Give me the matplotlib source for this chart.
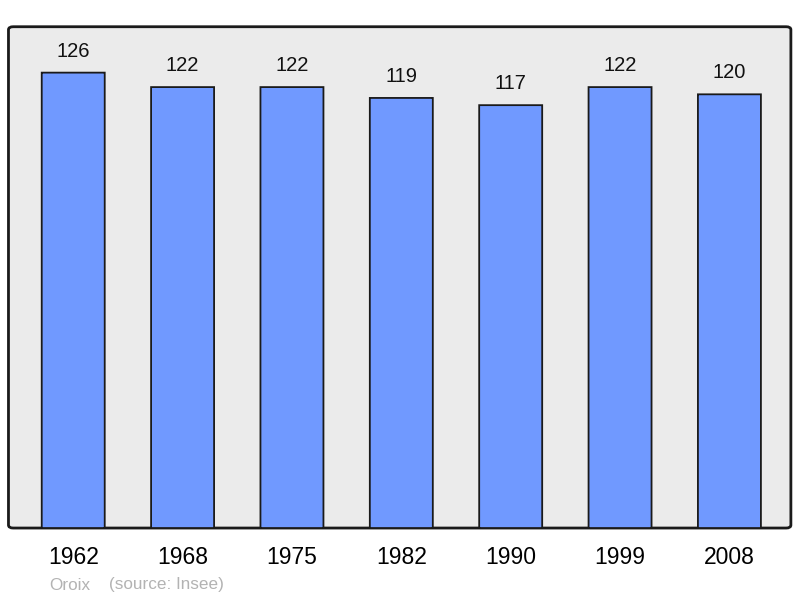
import matplotlib
matplotlib.use('Agg')
from matplotlib import pyplot as plt
from matplotlib.patches import FancyBboxPatch

# Data
years = ['1962', '1968', '1975', '1982', '1990', '1999', '2008']
population = [126, 122, 122, 119, 117, 122, 120]
commune = 'Oroix'
source = '(source: Insee)'

plt.rcParams['font.family'] = ['Liberation Sans', 'DejaVu Sans']

fig = plt.figure(figsize=(8, 5.98), dpi=100)
ax = fig.add_axes([0.0106, 0.117, 0.978, 0.8383])
ax.set_facecolor('none')

# Rounded frame with grey background
frame = FancyBboxPatch((0, 0), 1, 1, boxstyle='round,pad=0,rounding_size=0.006',
                       transform=ax.transAxes, facecolor='#ebebeb', edgecolor='#1a1a1a',
                       linewidth=2, zorder=0, clip_on=False)
ax.add_patch(frame)
for s in ax.spines.values():
    s.set_visible(False)

x = list(range(len(years)))
for xi, v in zip(x, population):
    bar = FancyBboxPatch((xi - 0.288, 0), 0.576, v,
                         boxstyle='round,pad=0,rounding_size=0.02',
                         mutation_aspect=3.6 / 109.4,
                         facecolor='#7099ff', edgecolor='#1a1a1a', linewidth=1.3, zorder=2)
    ax.add_patch(bar)
    ax.annotate(str(v), (xi, v), xytext=(0, 15.5), textcoords='offset points',
                ha='center', va='center', fontsize=14.5, color='#111111')

ax.set_xlim(-0.592, 6.562)
ax.set_ylim(0, 138.7)
ax.set_yticks([])
ax.set_xticks(x)
ax.set_xticklabels(years, fontsize=16.5)
ax.tick_params(axis='x', length=0, pad=13)

fig.text(49 / 800, 1 - 585 / 598, commune, fontsize=12.3, color='#b3b3b3', va='center', ha='left')
fig.text(109 / 800, 1 - 585 / 598, source, fontsize=12.3, color='#b3b3b3', va='center', ha='left')

plt.savefig('out.png', dpi=100)
